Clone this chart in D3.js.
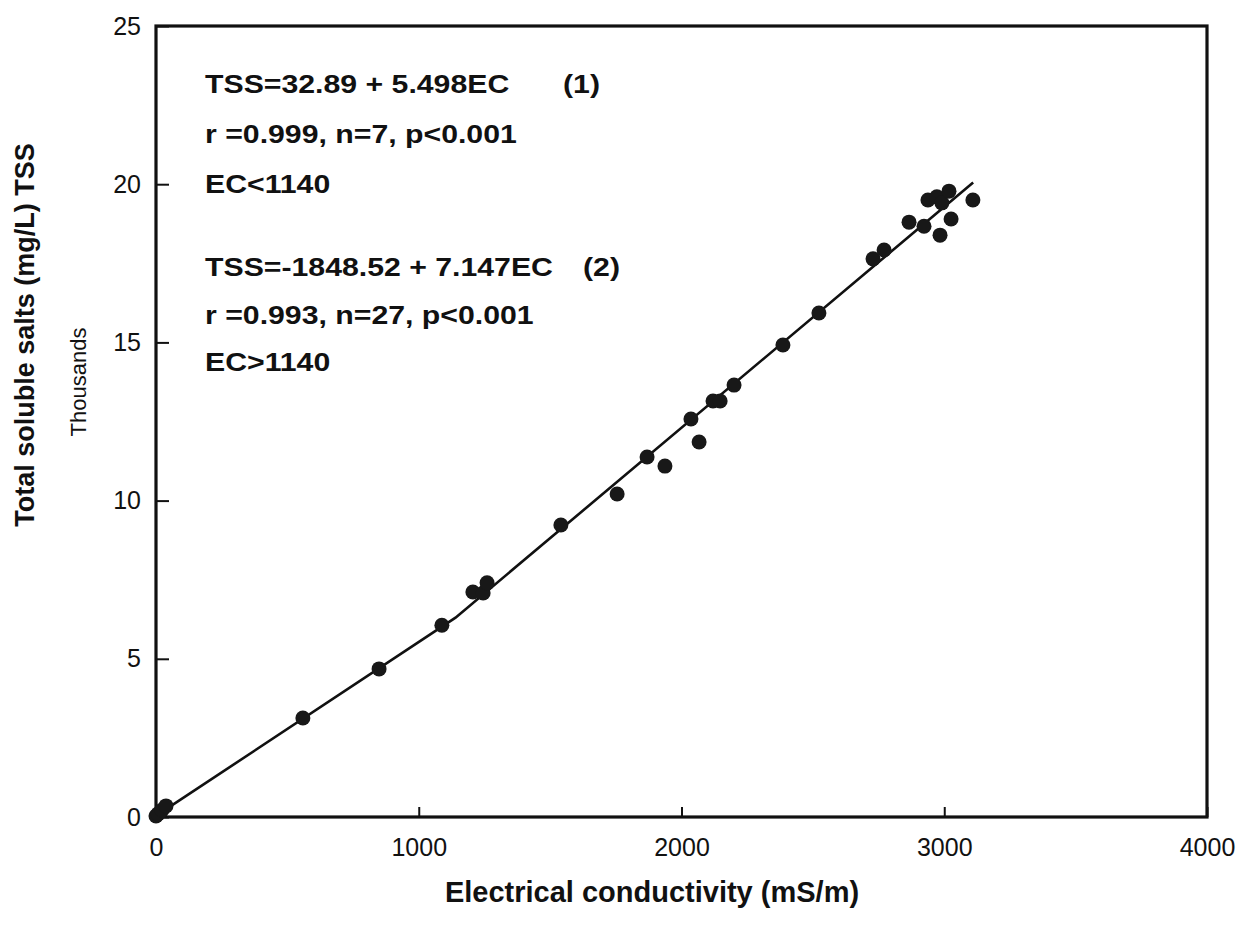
<!DOCTYPE html>
<html>
<head>
<meta charset="utf-8">
<script src="https://cdn.jsdelivr.net/npm/d3@7/dist/d3.min.js"></script>
<style>
  html, body { margin: 0; padding: 0; background: #fff; }
  svg { display: block; font-family: "Liberation Sans", Arial, Helvetica, sans-serif; }
  .tick text { font-size: 25px; fill: #111; }
  .tick line { stroke: #111; stroke-width: 2; }
</style>
</head>
<body>
<div class="container"></div>
<script>
// electrical conductivity (mS/m) and TSS (thousands mg/L)
const ecValues = [
  0, 8, 23, 38, 559, 849, 1088,
  1206, 1245, 1260, 1541, 1755, 1869, 1937, 2036, 2067, 2120, 2147, 2200,
  2386, 2523, 2729, 2771, 2866, 2923, 2938, 2972, 2991, 3018, 2984, 3026, 3109
];
const tssValues = [
  0.03, 0.1, 0.22, 0.35, 3.13, 4.68, 6.06,
  7.11, 7.08, 7.4, 9.23, 10.21, 11.38, 11.09, 12.58, 11.85, 13.15, 13.15, 13.65,
  14.92, 15.93, 17.64, 17.92, 18.8, 18.67, 19.5, 19.6, 19.41, 19.78, 18.39, 18.9, 19.5
];

// vertices of the two fitted segments (break at EC = 1140)
const fitEC = [30, 1140, 3110];
const fitTSS = [0.2, 6.3, 20.05];

const xTicks = [0, 1000, 2000, 3000, 4000];
const yTicks = [0, 5, 10, 15, 20, 25];

const annotations = [
  ["TSS=32.89 + 5.498EC", "(1)"],
  ["r =0.999, n=7, p<0.001", ""],
  ["EC<1140", ""],
  ["TSS=-1848.52 + 7.147EC", "(2)"],
  ["r =0.993, n=27, p<0.001", ""],
  ["EC>1140", ""]
];

const width = 1240;
const height = 931;
const plot = { left: 156, top: 26, right: 1207, bottom: 817 };

const svg = d3.select(".container")
  .append("svg")
  .attr("width", width)
  .attr("height", height);

const x = d3.scaleLinear().domain([0, 4000]).range([plot.left, plot.right]);
const y = d3.scaleLinear().domain([0, 25]).range([plot.bottom, plot.top]);

svg.append("g")
  .attr("transform", `translate(0,${plot.bottom})`)
  .call(d3.axisBottom(x).tickValues(xTicks).tickSizeInner(-10).tickSizeOuter(0).tickPadding(21).tickFormat(d3.format("d")))
  .call((g) => g.select(".domain").remove());

svg.append("g")
  .attr("transform", `translate(${plot.left},0)`)
  .call(d3.axisLeft(y).tickValues(yTicks).tickSizeInner(-13).tickSizeOuter(0).tickPadding(15))
  .call((g) => g.select(".domain").remove());

svg.append("rect")
  .attr("x", plot.left)
  .attr("y", plot.top)
  .attr("width", plot.right - plot.left)
  .attr("height", plot.bottom - plot.top)
  .attr("fill", "none")
  .attr("stroke", "#111")
  .attr("stroke-width", 3.2);

const fitLine = d3.line()
  .x((d, i) => x(fitEC[i]))
  .y((d) => y(d));

svg.append("path")
  .attr("d", fitLine(fitTSS))
  .attr("fill", "none")
  .attr("stroke", "#111")
  .attr("stroke-width", 2.6);

svg.append("g")
  .selectAll("circle")
  .data(ecValues)
  .join("circle")
  .attr("cx", (d) => x(d))
  .attr("cy", (d, i) => y(tssValues[i]))
  .attr("r", 7.5)
  .attr("fill", "#181818");

// equation block, wide bold lettering as in the figure
const baselines = [93, 143, 193, 276, 324, 371];
const notes = svg.append("g")
  .attr("font-weight", "bold")
  .attr("font-size", 25)
  .attr("fill", "#111");

annotations.forEach(([text, tag], i) => {
  notes.append("text")
    .attr("transform", `translate(205,${baselines[i]}) scale(1.21,1)`)
    .text(text);
  if (tag) {
    notes.append("text")
      .attr("transform", `translate(${i === 0 ? 563 : 583},${baselines[i]}) scale(1.21,1)`)
      .text(tag);
  }
});

svg.append("text")
  .attr("x", 652)
  .attr("y", 902)
  .attr("text-anchor", "middle")
  .attr("font-weight", "bold")
  .attr("font-size", 29)
  .attr("fill", "#111")
  .text("Electrical conductivity (mS/m)");

svg.append("text")
  .attr("transform", "translate(34,335) rotate(-90)")
  .attr("text-anchor", "middle")
  .attr("font-weight", "bold")
  .attr("font-size", 27)
  .attr("fill", "#111")
  .text("Total soluble salts (mg/L) TSS");

svg.append("text")
  .attr("transform", "translate(86,382) rotate(-90)")
  .attr("text-anchor", "middle")
  .attr("font-size", 22)
  .attr("fill", "#111")
  .text("Thousands");
</script>
</body>
</html>
